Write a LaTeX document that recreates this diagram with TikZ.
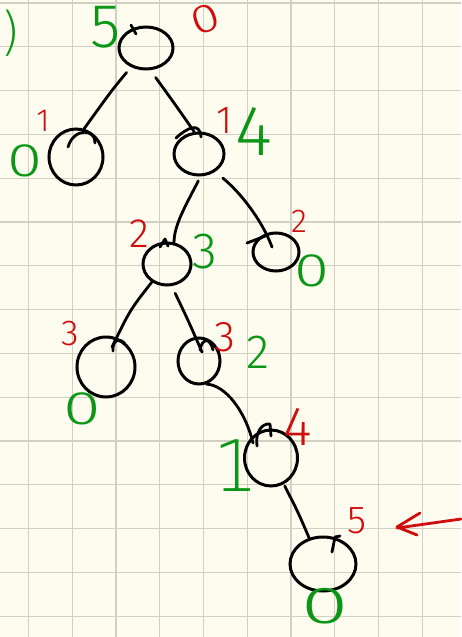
\documentclass[tikz,border=0pt]{standalone}
\usepackage{fontspec}
\setmainfont{Fira Sans}[UprightFont=* Light, Numbers=Lining]
\newfontfamily\dvs{DejaVu Sans}[UprightFont=* ExtraLight]
\usetikzlibrary{shapes.geometric,calc}
\definecolor{paper}{RGB}{253,252,238}
\definecolor{gridline}{RGB}{210,208,194}
\definecolor{inkred}{RGB}{208,12,12}
\definecolor{inkgreen}{RGB}{12,150,22}
\newcommand{\fs}[1]{\fontsize{#1}{#1}\selectfont}
\newcommand{\wideoh}[2][1.35]{\scalebox{#1}[1]{#2}}
\tikzset{
  vert/.style={draw=black, line width=3pt, ellipse, inner sep=0pt},
  edge/.style={draw=black, line width=2.8pt, line cap=round},
  hook/.style={draw=black, line width=2.8pt, line cap=round, line join=round},
  redlab/.style={text=inkred, inner sep=0pt},
  greenlab/.style={text=inkgreen, inner sep=0pt},
}
\begin{document}
\begin{tikzpicture}[x=1pt,y=-1pt]
  % paper and squared grid
  \fill[paper] (0,0) rectangle (461,637);
  \useasboundingbox (0,0) rectangle (461,637);
  \foreach \k in {0,...,9} \draw[gridline, line width=1.2pt] (28.5+43.75*\k,0) -- (28.5+43.75*\k,637);
  \foreach \k in {0,...,14} \draw[gridline, line width=1.2pt] (0,3+43.8*\k) -- (461,3+43.8*\k);

  % vertices
  \node[vert, minimum width=54pt, minimum height=42pt] (r) at (146,48) {};
  \node[vert, minimum width=54pt, minimum height=56pt] (a) at (76,157) {};
  \node[vert, minimum width=50pt, minimum height=42pt] (b) at (199,154) {};
  \node[vert, minimum width=48pt, minimum height=42pt] (c) at (167,264) {};
  \node[vert, minimum width=46pt, minimum height=38pt] (d) at (276,252) {};
  \node[vert, minimum width=58pt, minimum height=60pt] (e) at (106,367) {};
  \node[vert, minimum width=42pt, minimum height=46pt] (f) at (199,361) {};
  \node[vert, minimum width=53pt, minimum height=56pt] (g) at (271,458) {};
  \node[vert, minimum width=66pt, minimum height=54pt] (h) at (323,564) {};

  % pen-start hooks on the circles
  \draw[hook] (131,25) -- (136,34);
  \draw[hook] (68,147) .. controls (74,127) and (96,129) .. (95,143);
  \draw[hook] (176,138) .. controls (188,127) and (200,122) .. (201,137);
  \draw[hook] (160,247) -- (165,239) -- (168,246);
  \draw[hook] (247,243) -- (268,235);
  \draw[hook] (113,351) .. controls (112,340) and (120,337) .. (125,344);
  \draw[hook] (200,350) .. controls (202,338) and (210,337) .. (213,350);
  \draw[hook] (257,446) .. controls (255,432) and (262,423) .. (270,424) -- (271,436);
  \draw[hook] (332,552) -- (335,537) -- (340,536);

  % tree edges
  \draw[edge, shorten <=7pt] (r.-128) .. controls (112,90) .. (a.74);
  \draw[edge, shorten <=9pt] (r.-79) .. controls (172,100) .. (b.102);
  \draw[edge, shorten <=5pt] (b.-86) .. controls (186,205) and (174,225) .. (c.72);
  \draw[edge, shorten <=10pt] (b.-48) .. controls (240,192) and (262,220) .. ($(d.center)+(-4,-5)$);
  \draw[edge] (c.-130) .. controls (130,310) .. ($(e.center)+(6,-20)$);
  \draw[edge, shorten <=8pt] (c.-78) .. controls (188,320) .. ($(f.center)+(3,-9)$);
  \draw[edge] (f.-72) .. controls (225,385) and (245,410) .. ($(g.center)+(-18,-15)$);
  \draw[edge, shorten <=2pt] (g.-64) .. controls (298,512) .. (h.118);

  % labels
  \node[greenlab, font=\dvs\fs{52}] (lpar) at (11,33) {)};
  \node[greenlab, font=\fs{62}] (l5) at (106,27) {5};
  \node[redlab, font=\fs{40}, rotate=20] (r0) at (205,19) {\wideoh[1.3]{0}};
  \node[redlab, font=\fs{32}] (ra) at (43,121) {1};
  \node[greenlab, font=\fs{47}] (ga) at (25,161) {\wideoh{0}};
  \node[redlab, font=\fs{39}] (rb) at (225,121) {1};
  \node[greenlab, font=\fs{71}] (gb) at (254,131) {4};
  \node[redlab, font=\fs{41}] (rc) at (139,234) {2};
  \node[greenlab, font=\fs{51}] (gc) at (205,252) {3};
  \node[redlab, font=\fs{33}] (rd) at (299,221) {2};
  \node[greenlab, font=\fs{47}] (gd) at (312,271) {\wideoh{0}};
  \node[redlab, font=\fs{36}] (re) at (70,334) {3};
  \node[greenlab, font=\fs{47}] (ge) at (82,409) {\wideoh[1.45]{0}};
  \node[redlab, font=\fs{43}] (rf) at (225,337) {3};
  \node[greenlab, font=\fs{48}] (gf) at (258,352) {2};
  \node[redlab, font=\fs{55}] (rg) at (298,427) {4};
  \node[greenlab, font=\dvs\fs{71}] (gg) at (236,466) {1};
  \node[redlab, font=\fs{39}] (rh) at (357,521) {5};
  \node[greenlab, font=\fs{52}] (gh) at (325,606) {\wideoh[1.65]{0}};

  % arrow pointing at the last label
  \coordinate (tail) at (461,519);
  \draw[inkred, line width=2.8pt, line cap=round, line join=round]
    (tail) -- (397,528) (420,513) -- (397,527) -- (417,535);
\end{tikzpicture}
\end{document}
